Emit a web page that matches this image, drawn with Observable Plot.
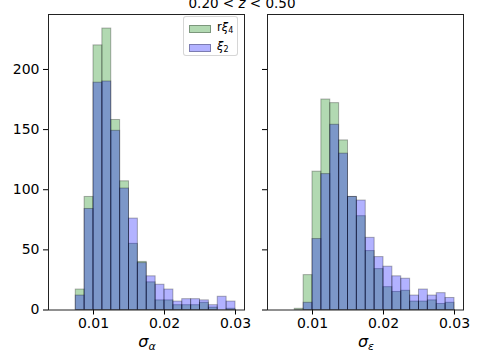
<!DOCTYPE html>
<html><head><meta charset="utf-8">
<script src="https://cdn.jsdelivr.net/npm/d3@7"></script>
<script src="https://cdn.jsdelivr.net/npm/@observablehq/plot@0.6"></script>
<style>
body{margin:0;background:#fff;}
#wrap{position:relative;width:484px;height:363px;overflow:hidden;font-family:"DejaVu Sans";color:#000;}
.abs{position:absolute;white-space:nowrap;}
</style></head><body><div id="wrap"></div>
<script>
// histogram bin edges (shared by both panels)
const binEdges = [0.0075, 0.00875, 0.01, 0.01125, 0.0125, 0.01375, 0.015, 0.01625, 0.0175, 0.01875,
                  0.02, 0.02125, 0.0225, 0.02375, 0.025, 0.02625, 0.0275, 0.02875, 0.03];
// sigma_alpha counts
const alphaRXi4 = [17, 94, 220, 234, 158, 107, 55, 40, 23, 8, 8, 4, 4, 4, 6, 2, 0, 1];
const alphaXi2  = [12, 84, 189, 190, 149, 101, 76, 39, 28, 21, 17, 7, 9, 9, 8, 4, 11, 7];
// sigma_epsilon counts
const epsRXi4 = [1, 29, 115, 175, 172, 141, 94, 78, 49, 34, 19, 15, 16, 7, 7, 8, 5, 6];
const epsXi2  = [0, 6, 59, 113, 154, 130, 94, 91, 60, 44, 36, 28, 26, 12, 17, 12, 14, 10];

const xTicks = [0.01, 0.02, 0.03];
const yTicks = [0, 50, 100, 150, 200];
const xDomain = [0.00366, 0.03127];
const yDomain = [0, 245.7];

function bins(counts) {
  return counts.map((c, i) => ({x1: binEdges[i], x2: binEdges[i + 1], count: c}));
}

function panel(green, blue, o) {
  const svg = Plot.plot({
    width: o.width, height: 363,
    marginLeft: o.ml, marginRight: o.mr, marginTop: 14, marginBottom: 53.5,
    style: {fontFamily: "DejaVu Sans", fontSize: "14px", color: "#000", background: "transparent", overflow: "visible"},
    x: {domain: xDomain, label: null},
    y: {domain: yDomain, label: null},
    marks: [
      Plot.rectY(bins(green), {x1: "x1", x2: "x2", y: "count", fill: "green", fillOpacity: 0.3, stroke: "black", strokeOpacity: 0.3, strokeWidth: 1}),
      Plot.rectY(bins(blue), {x1: "x1", x2: "x2", y: "count", fill: "blue", fillOpacity: 0.3, stroke: "black", strokeOpacity: 0.3, strokeWidth: 1}),
      Plot.axisX({ticks: xTicks, tickFormat: d3.format(".2f"), tickSize: 5, tickPadding: 3, label: null}),
      Plot.axisY({ticks: yTicks, tickSize: 5, tickPadding: 4, label: null, tickFormat: o.yLabels ? (d => String(d)) : (() => "")}),
      Plot.frame({stroke: "#222"})
    ]
  });
  svg.style.position = "absolute";
  svg.style.left = o.left + "px";
  svg.style.top = "0px";
  return svg;
}

const wrap = document.getElementById("wrap");
wrap.appendChild(panel(alphaRXi4, alphaXi2, {width: 256, ml: 48, mr: 12, left: 0, yLabels: true}));
wrap.appendChild(panel(epsRXi4, epsXi2, {width: 228, ml: 11, mr: 21, left: 256, yLabels: false}));

function addDiv(html, css) {
  const d = document.createElement("div");
  d.className = "abs";
  d.innerHTML = html;
  Object.assign(d.style, css);
  wrap.appendChild(d);
  return d;
}
// title
addDiv('0.20 &lt; <i>z</i> &lt; 0.50', {left: "242px", top: "-2.8px", fontSize: "13.5px", lineHeight: "1", transform: "translateX(-50%)"});
// x labels
addDiv('<i>σ</i><sub style="font-size:11px;vertical-align:-3px"><i>α</i></sub>', {left: "147px", top: "334px", fontSize: "16px", lineHeight: "1", transform: "translateX(-50%)"});
addDiv('<i>σ</i><sub style="font-size:11px;vertical-align:-3px"><i>ε</i></sub>', {left: "366px", top: "334px", fontSize: "16px", lineHeight: "1", transform: "translateX(-50%)"});
// legend
const leg = addDiv('', {left: "183px", top: "16px", width: "55px", height: "40px", border: "1px solid rgba(204,204,204,0.8)", borderRadius: "3px", background: "rgba(255,255,255,0.8)", boxSizing: "border-box"});
const legItems = [
  {name: 'r<i>ξ</i><sub style="font-size:8px;vertical-align:-2px">4</sub>', fill: "rgba(0,128,0,0.3)", top: 8},
  {name: '<i>ξ</i><sub style="font-size:8px;vertical-align:-2px">2</sub>', fill: "rgba(0,0,255,0.3)", top: 27}
];
legItems.forEach((it) => {
  const sw = document.createElement("div");
  Object.assign(sw.style, {position: "absolute", left: "5px", top: it.top + "px", width: "22px", height: "8px", background: it.fill, border: "1px solid rgba(0,0,0,0.3)", boxSizing: "border-box"});
  leg.appendChild(sw);
  const lb = document.createElement("div");
  lb.innerHTML = it.name;
  Object.assign(lb.style, {position: "absolute", left: "33px", top: (it.top - 3) + "px", fontSize: "11.5px", lineHeight: "1", whiteSpace: "nowrap"});
  leg.appendChild(lb);
});
</script></body></html>
